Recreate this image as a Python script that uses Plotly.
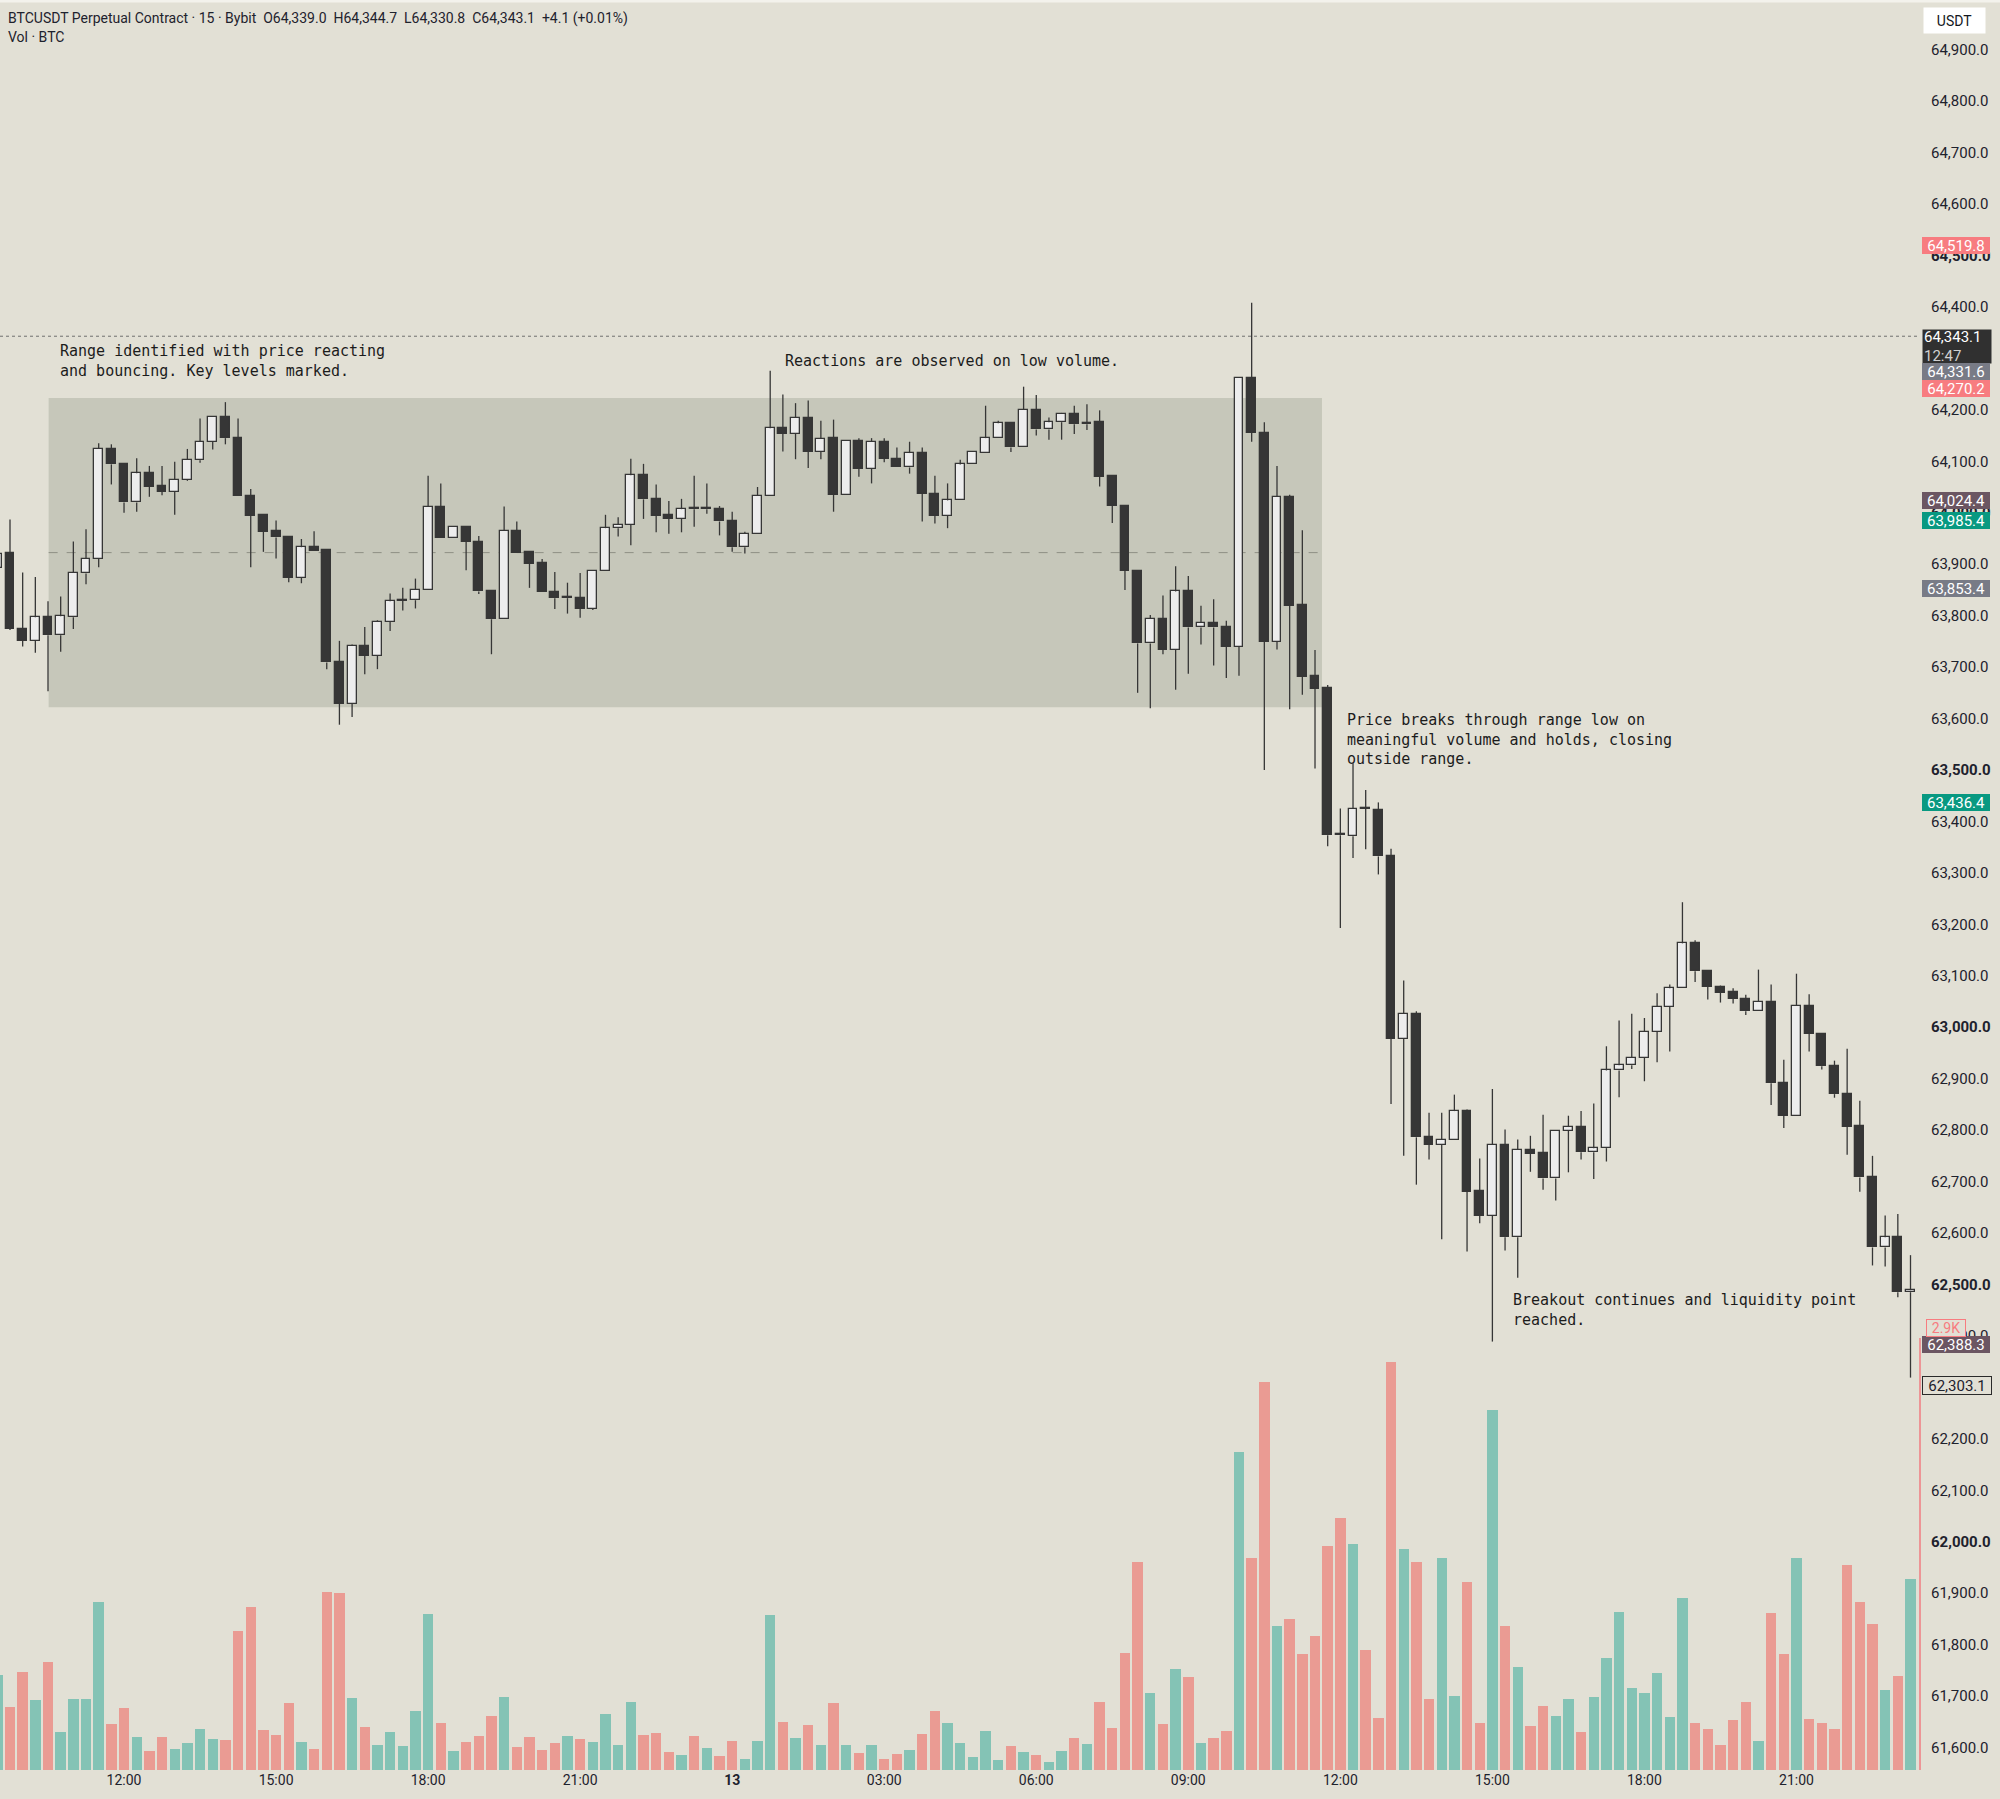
import pandas as pd
import plotly.graph_objects as go

# 15m BTCUSDT candles, first bar 09:30 on the 12th
opens = [63893, 63921, 63775, 63751, 63797, 63762, 63797, 63882, 63910, 64124,
         64095, 64020, 64077, 64052, 64041, 64064, 64102, 64138, 64186, 64145,
         64033, 63995, 63964, 63953, 63874, 63934, 63927, 63710, 63629, 63741,
         63722, 63788, 63829, 63830, 63850, 64012, 63950, 63972, 63944, 63847,
         63793, 63965, 63923, 63902, 63845, 63834, 63834, 63813, 63887, 63970,
         63976, 64073, 64027, 63995, 63988, 64008, 64007, 64007, 63984, 63933,
         63959, 64033, 64164, 64153, 64185, 64118, 64145, 64035, 64140, 64085,
         64138, 64105, 64088, 64116, 64037, 63994, 64024, 64094, 64117, 64145,
         64174, 64127, 64200, 64162, 64176, 64192, 64172, 64176, 64071, 64014,
         63887, 63746, 63794, 63734, 63847, 63777, 63786, 63777, 63739, 64261,
         64155, 63749, 64031, 63820, 63682, 63660, 63374, 63371, 63425, 63423,
         63332, 62978, 63026, 62787, 62771, 62780, 62837, 62681, 62634, 62772,
         62592, 62762, 62755, 62706, 62799, 62806, 62757, 62765, 62916, 62926,
         62941, 62991, 63040, 63076, 63163, 63110, 63078, 63068, 63055, 63031,
         63049, 62892, 62828, 63042, 62987, 62924, 62871, 62808, 62709, 62572,
         62592, 62485]
highs = [63926, 63987, 63884, 63875, 63828, 63837, 63944, 63968, 64135, 64133,
         64095, 64106, 64091, 64091, 64099, 64124, 64183, 64186, 64215, 64183,
         64046, 63995, 63985, 63953, 63949, 63964, 63927, 63751, 63744, 63778,
         63791, 63843, 63854, 63872, 64072, 64057, 63972, 63972, 63955, 63847,
         64012, 63983, 63923, 63910, 63885, 63864, 63883, 63887, 63996, 63991,
         64105, 64095, 64055, 64023, 64027, 64072, 64057, 64013, 64002, 63963,
         64050, 64276, 64230, 64213, 64218, 64179, 64181, 64140, 64145, 64145,
         64145, 64127, 64138, 64127, 64072, 64057, 64103, 64120, 64208, 64179,
         64174, 64245, 64229, 64185, 64194, 64208, 64211, 64199, 64071, 64014,
         63887, 63801, 63839, 63896, 63877, 63819, 63832, 63790, 64261, 64408,
         64176, 64091, 64035, 63966, 63733, 63665, 63425, 63513, 63461, 63437,
         63347, 63091, 63031, 62834, 62834, 62869, 62840, 62745, 62880, 62801,
         62782, 62789, 62830, 62799, 62828, 62837, 62852, 62963, 63013, 63026,
         63018, 63066, 63083, 63243, 63169, 63110, 63081, 63076, 63063, 63112,
         63083, 62937, 63104, 63064, 62987, 62935, 62958, 62857, 62750, 62634,
         62637, 62557]
lows = [63884, 63772, 63740, 63728, 63653, 63730, 63774, 63861, 63894, 64055,
        64000, 64002, 64031, 64034, 63996, 64062, 64097, 64123, 64133, 64032,
        63894, 63924, 63911, 63865, 63863, 63926, 63696, 63588, 63603, 63686,
        63696, 63770, 63810, 63814, 63850, 63950, 63950, 63888, 63842, 63725,
        63793, 63922, 63854, 63845, 63813, 63804, 63796, 63811, 63887, 63954,
        63937, 63988, 63962, 63959, 63962, 63973, 63998, 63956, 63924, 63921,
        63959, 64033, 64119, 64104, 64087, 64104, 64002, 64035, 64070, 64057,
        64098, 64088, 64076, 63983, 63979, 63970, 64024, 64094, 64117, 64145,
        64118, 64127, 64150, 64142, 64142, 64153, 64161, 64051, 63980, 63850,
        63650, 63620, 63725, 63656, 63687, 63744, 63703, 63679, 63683, 64138,
        63500, 63734, 63618, 63646, 63503, 63352, 63193, 63329, 63346, 63297,
        62851, 62750, 62694, 62743, 62588, 62780, 62564, 62619, 62389, 62566,
        62513, 62719, 62684, 62663, 62718, 62743, 62705, 62739, 62864, 62919,
        62895, 62932, 62953, 63076, 63088, 63054, 63048, 63046, 63024, 63031,
        62849, 62804, 62828, 62953, 62918, 62863, 62752, 62680, 62537, 62535,
        62475, 62319]
closes = [63920, 63774, 63751, 63797, 63762, 63799, 63883, 63910, 64124, 64094,
          64020, 64077, 64051, 64041, 64064, 64103, 64138, 64186, 64145, 64032,
          63994, 63963, 63952, 63874, 63933, 63926, 63709, 63629, 63741, 63722,
          63788, 63828, 63830, 63850, 64012, 63950, 63972, 63944, 63847, 63793,
          63965, 63922, 63901, 63845, 63834, 63835, 63813, 63887, 63970, 63976,
          64073, 64026, 63994, 63988, 64007, 64007, 64008, 63983, 63933, 63959,
          64033, 64164, 64153, 64185, 64118, 64144, 64035, 64140, 64085, 64138,
          64105, 64088, 64116, 64037, 63994, 64024, 64094, 64118, 64145, 64174,
          64127, 64200, 64162, 64176, 64192, 64172, 64175, 64070, 64013, 63887,
          63746, 63794, 63734, 63847, 63777, 63786, 63777, 63739, 64261, 64155,
          63749, 64031, 63819, 63681, 63658, 63373, 63373, 63424, 63424, 63332,
          62978, 63026, 62786, 62771, 62781, 62837, 62680, 62634, 62772, 62592,
          62762, 62754, 62706, 62799, 62806, 62757, 62765, 62916, 62926, 62941,
          62991, 63040, 63076, 63163, 63109, 63078, 63067, 63055, 63031, 63049,
          62891, 62828, 63042, 62987, 62924, 62870, 62807, 62708, 62572, 62592,
          62485, 62489]
volumes = [1425, 950, 1470, 1050, 1615, 575, 1060, 1060, 2515, 690,
           935, 495, 280, 495, 315, 400, 615, 465, 450, 2090,
           2450, 595, 525, 1000, 415, 315, 2675, 2650, 1080, 640,
           380, 575, 365, 885, 2335, 705, 280, 415, 510, 805,
           1095, 350, 495, 300, 400, 510, 465, 415, 840, 380,
           1015, 530, 560, 265, 220, 510, 335, 205, 430, 170,
           430, 2320, 720, 480, 675, 380, 1000, 380, 250, 380,
           170, 235, 300, 545, 885, 705, 400, 195, 590, 155,
           355, 270, 220, 125, 285, 480, 385, 1015, 630, 1755,
           3115, 1150, 690, 1510, 1390, 400, 480, 580, 4765, 3180,
           5825, 2160, 2270, 1740, 2010, 3365, 3785, 3395, 1800, 775,
           6120, 3315, 3115, 1065, 3185, 1115, 2825, 710, 5400, 2160,
           1540, 660, 955, 810, 1065, 565, 1100, 1685, 2365, 1230,
           1150, 1460, 790, 2585, 710, 615, 370, 745, 1015, 435,
           2355, 1740, 3185, 760, 710, 615, 3075, 2520, 2195, 1200,
           1410, 2865]

times = pd.date_range("2024-10-12 09:30", periods=len(opens), freq="15min")

# time axis labels
tick_times = pd.to_datetime([
    "2024-10-12 12:00", "2024-10-12 15:00", "2024-10-12 18:00", "2024-10-12 21:00",
    "2024-10-13 00:00", "2024-10-13 03:00", "2024-10-13 06:00", "2024-10-13 09:00",
    "2024-10-13 12:00", "2024-10-13 15:00", "2024-10-13 18:00", "2024-10-13 21:00"])
tick_text = ["12:00", "15:00", "18:00", "21:00", "<b>13</b>", "03:00", "06:00",
             "09:00", "12:00", "15:00", "18:00", "21:00"]

# price scale
price_ticks = list(range(61600, 65000, 100))
price_text = [f"<b>{p:,.1f}</b>" if p % 500 == 0 else f"{p:,.1f}" for p in price_ticks]

# range drawn on the chart
range_high, range_low = 64223, 63622
last_price = 64343.1

BG = "#e2e0d5"
INK = "#363636"
LIGHT = "#ededed"
TEAL = "#84c3b5"
RED = "#ea9b93"

W, H = 2000, 1799
PW, PH = 1920, 1770   # plot area in pixels


def px(x):
    return x / PW


def py(y):
    return 1 - y / PH


bull = [c >= o for o, c in zip(opens, closes)]
body_base = [min(o, c) for o, c in zip(opens, closes)]
body_h = [max(abs(c - o), 2) for o, c in zip(opens, closes)]

wick_x, wick_y = [], []
for t, o, h, l, c in zip(times, opens, highs, lows, closes):
    wick_x += [t, t, None, t, t, None]
    wick_y += [h, max(o, c), None, min(o, c), l, None]

slot = pd.Timedelta(minutes=15)

fig = go.Figure()

fig.add_trace(go.Bar(
    x=times, y=volumes, yaxis="y",
    width=0.82 * 900000,
    marker=dict(color=[TEAL if b else RED for b in bull], line=dict(width=0)),
    hoverinfo="skip"))

fig.add_trace(go.Scatter(
    x=wick_x, y=wick_y, yaxis="y2", mode="lines",
    line=dict(color=INK, width=1.3), hoverinfo="skip"))

fig.add_trace(go.Bar(
    x=times, y=body_h, base=body_base, yaxis="y2",
    width=0.70 * 900000,
    marker=dict(color=[LIGHT if b else INK for b in bull],
                line=dict(color=INK, width=1.3)),
    hoverinfo="skip"))

x0 = times[0] + 0.211 * slot
x1 = times[0] + 151.75 * slot

shapes = [
    # range box
    dict(type="rect", xref="x", yref="y2", layer="below",
         x0=times[0] + 4.05 * slot, x1=times[0] + 104.55 * slot,
         y0=range_low, y1=range_high,
         fillcolor="#c6c7ba", line=dict(width=0)),
    dict(type="line", xref="x", yref="y2", layer="below",
         x0=times[0] + 4.05 * slot, x1=times[0] + 104.55 * slot,
         y0=(range_low + range_high) / 2, y1=(range_low + range_high) / 2,
         line=dict(color="#8e8f84", width=1, dash="dash")),
    # last price line
    dict(type="line", xref="paper", yref="y2", layer="below",
         x0=0, x1=1, y0=last_price, y1=last_price,
         line=dict(color="#6f6f6f", width=1, dash="dot")),
    # edge marker at the right of the volume pane
    dict(type="line", xref="paper", yref="paper",
         x0=1, x1=1, y0=py(1338), y1=0,
         line=dict(color="#f07c80", width=1.5)),
    dict(type="rect", xref="paper", yref="paper",
         x0=0, x1=W / PW, y0=1, y1=py(2.5),
         fillcolor="#f3f2ec", line=dict(width=0)),
]

MONO = dict(family="DejaVu Sans Mono", size=15, color="#1c1c1c")
UI = "Roboto"

annotations = [
    dict(text="BTCUSDT Perpetual Contract · 15 · Bybit  O64,339.0  H64,344.7  L64,330.8  C64,343.1  +4.1 (+0.01%)",
         x=px(6), y=py(19), xanchor="left", yanchor="middle",
         font=dict(family=UI, size=14, color="#1e222d")),
    dict(text="Vol · BTC", x=px(6), y=py(37.5), xanchor="left", yanchor="middle",
         font=dict(family=UI, size=14, color="#1e222d")),
    dict(text="Range identified with price reacting<br>and bouncing. Key levels marked.",
         x=px(58), y=py(340), xanchor="left", yanchor="top", align="left", font=MONO),
    dict(text="Reactions are observed on low volume.",
         x=px(783), y=py(350), xanchor="left", yanchor="top", align="left", font=MONO),
    dict(text="Price breaks through range low on<br>meaningful volume and holds, closing<br>outside range.",
         x=px(1345), y=py(709), xanchor="left", yanchor="top", align="left", font=MONO),
    dict(text="Breakout continues and liquidity point<br>reached.",
         x=px(1511), y=py(1289), xanchor="left", yanchor="top", align="left", font=MONO),
]

for a in annotations:
    a.update(xref="paper", yref="paper", showarrow=False)

LBL = dict(family=UI, size=15, color="#ffffff")
scale_x = 1 + 2 / PW


def price_label(value, bg, shift=0, fg="#ffffff", border=None):
    return dict(text=f"{value:,.1f}", xref="paper", yref="y2", x=scale_x, y=value,
                xanchor="left", yanchor="middle", yshift=shift, showarrow=False,
                width=66, height=15, borderpad=1, bgcolor=bg,
                bordercolor=border or bg, borderwidth=1 if border else 0,
                font=dict(family=UI, size=15, color=fg))


annotations += [
    dict(text="USDT", xref="paper", yref="paper", x=1 + 3 / PW, y=py(20.5),
         xanchor="left", yanchor="middle", showarrow=False, width=57, height=21,
         borderpad=2, bgcolor="#ffffff", font=dict(family=UI, size=14, color="#131722")),
    price_label(64519.8, "#f77c80"),
    dict(text="64,343.1<br><span style='color:#d0d0d0'>12:47</span>",
         xref="paper", yref="y2", x=scale_x, y=last_price,
         xanchor="left", yanchor="top", yshift=7, showarrow=False, align="left",
         width=66, height=31, borderpad=1, bgcolor="#303030", font=LBL),
    price_label(64331.6, "#787b86", shift=-29),
    price_label(64270.2, "#f77c80", shift=-15),
    price_label(64024.4, "#6b5662"),
    price_label(63985.4, "#089981"),
    price_label(63853.4, "#787b86"),
    price_label(63436.4, "#089981"),
    price_label(62388.3, "#6b5662", shift=-3),
    price_label(62303.1, BG, fg="#1e222d", border="#2a2a2a"),
    dict(text="2.9K", xref="paper", yref="paper", x=1 + 6 / PW, y=py(1328),
         xanchor="left", yanchor="middle", showarrow=False, width=36, height=14,
         borderpad=1, bgcolor=BG, bordercolor="#f77c80", borderwidth=1,
         font=dict(family=UI, size=14, color="#f77c80")),
]

fig.update_layout(
    width=W, height=H,
    margin=dict(l=0, r=W - PW, t=0, b=H - PH),
    paper_bgcolor=BG, plot_bgcolor=BG,
    showlegend=False, barmode="overlay", bargap=0,
    xaxis=dict(type="date", range=[x0, x1], tickvals=tick_times, ticktext=tick_text,
               showgrid=False, zeroline=False, showline=False, ticks="",
               tickfont=dict(family=UI, size=14, color="#1e222d"), fixedrange=True),
    yaxis=dict(range=[0, PH * 15], visible=False, fixedrange=True),
    yaxis2=dict(overlaying="y", side="right", anchor="x",
                range=[61556.3, 64996.6], tickvals=price_ticks, ticktext=price_text,
                showgrid=False, zeroline=False, showline=False, ticks="",
                ticklabelstandoff=10,
                tickfont=dict(family=UI, size=15, color="#1e222d")),
    shapes=shapes,
    annotations=annotations,
)

# drop the browser's default page margin so the figure sits at the window corner
fig.write_html("out.html", config={"displayModeBar": False},
               post_script="document.body.style.margin='0px';")
